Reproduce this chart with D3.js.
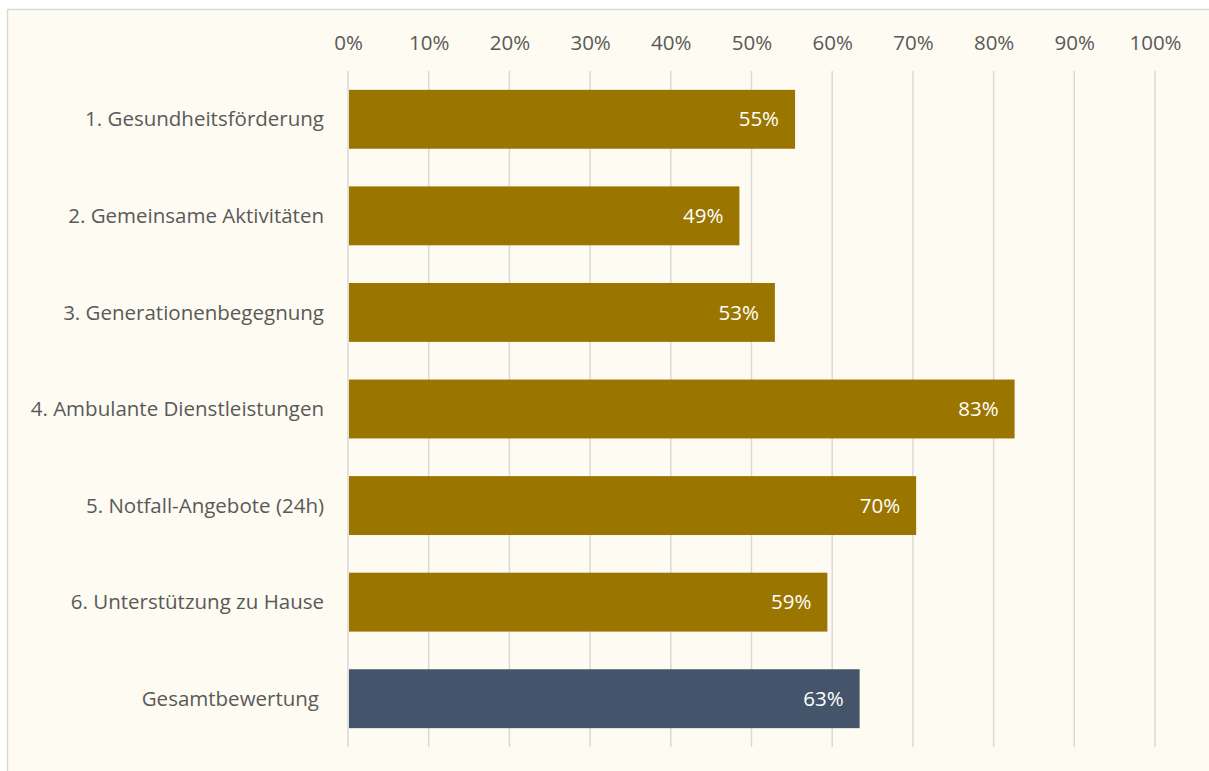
<!DOCTYPE html>
<html>
<head>
<meta charset="utf-8">
<script src="https://cdn.jsdelivr.net/npm/d3@7"></script>
<style>
  body { margin: 0; background: #fff; }
  svg { display: block; font-family: "Open Sans", sans-serif; }
</style>
</head>
<body>
<div id="chart"></div>
<script>
var categories = ['1. Gesundheitsförderung', '2. Gemeinsame Aktivitäten', '3. Generationenbegegnung',
  '4. Ambulante Dienstleistungen', '5. Notfall-Angebote (24h)', '6. Unterstützung zu Hause', 'Gesamtbewertung'];
var values = [0.554, 0.485, 0.529, 0.826, 0.704, 0.594, 0.634];
var barColors = ['#9a7500', '#9a7500', '#9a7500', '#9a7500', '#9a7500', '#9a7500', '#44546a'];
var tickValues = [0, 0.1, 0.2, 0.3, 0.4, 0.5, 0.6, 0.7, 0.8, 0.9, 1];

var width = 1209, height = 771;
var margin = { top: 71, right: 54, bottom: 24, left: 348 };
var fontSize = '20.5px';

var svg = d3.select('#chart').append('svg')
    .attr('width', width)
    .attr('height', height);

// chart area background + border
svg.append('rect')
    .attr('x', 7.5).attr('y', 9.5)
    .attr('width', width + 10).attr('height', height + 10)
    .attr('fill', '#fefbf2')
    .attr('stroke', '#d9d9d9')
    .attr('stroke-width', 1.5);

var x = d3.scaleLinear().domain([0, 1]).range([margin.left, width - margin.right]);
var y = d3.scaleBand().domain(categories).range([margin.top, height - margin.bottom]).paddingInner(0.39).paddingOuter(0.195);

var g = svg.append('g');

// gridlines
g.selectAll('.grid')
    .data(tickValues)
    .enter()
    .append('line')
    .attr('class', 'grid')
    .attr('x1', function(d) { return x(d); })
    .attr('x2', function(d) { return x(d); })
    .attr('y1', margin.top)
    .attr('y2', height - margin.bottom)
    .attr('stroke', '#d9d9d9')
    .attr('stroke-width', 1.5);

// top axis labels
var xAxis = d3.axisTop(x).tickValues(tickValues).tickFormat(d3.format('.0%')).tickSize(0).tickPadding(0);
var ax = svg.append('g')
    .attr('transform', 'translate(0,50)')
    .call(xAxis);
ax.select('.domain').remove();
ax.selectAll('text')
    .attr('fill', '#595959')
    .style('font-size', fontSize)
    .style('font-family', '"Open Sans", sans-serif');

// bars
g.selectAll('.bar')
    .data(values)
    .enter()
    .append('rect')
    .attr('class', 'bar')
    .attr('x', x(0) + 1)
    .attr('y', function(d, i) { return y(categories[i]); })
    .attr('width', function(d) { return x(d) - x(0) - 1; })
    .attr('height', y.bandwidth())
    .attr('fill', function(d, i) { return barColors[i]; });

// value labels
g.selectAll('.val')
    .data(values)
    .enter()
    .append('text')
    .attr('class', 'val')
    .attr('x', function(d) { return x(d) - 16; })
    .attr('y', function(d, i) { return y(categories[i]) + y.bandwidth() / 2; })
    .attr('dy', '0.35em')
    .attr('text-anchor', 'end')
    .attr('fill', '#ffffff')
    .style('font-size', fontSize)
    .text(function(d) { return Math.round(d * 100) + '%'; });

// category labels
g.selectAll('.cat')
    .data(categories)
    .enter()
    .append('text')
    .attr('class', 'cat')
    .attr('x', function(d, i) { return i === categories.length - 1 ? 319 : 324; })
    .attr('y', function(d) { return y(d) + y.bandwidth() / 2; })
    .attr('dy', '0.35em')
    .attr('text-anchor', 'end')
    .attr('fill', '#595959')
    .style('font-size', fontSize)
    .text(function(d) { return d; });
</script>
</body>
</html>
